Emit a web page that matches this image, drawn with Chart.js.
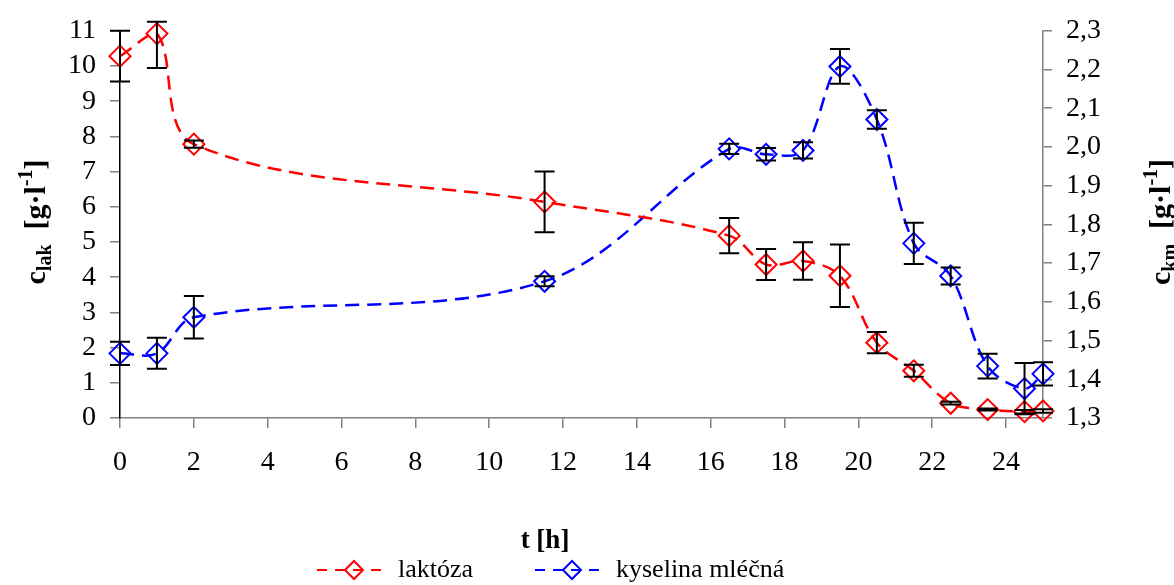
<!doctype html>
<html>
<head>
    <title>Laktóza a kyselina mléčná</title>
    <script src="https://cdn.jsdelivr.net/npm/chart.js"></script>
    <style>
        body { margin: 0; background: #fff; }
        .wrapper { width: 1174px; height: 585px; }
    </style>
</head>
<body>
    <div class="wrapper"><canvas id="chart"></canvas></div>

    <script>
        // Data
        var hours = [0, 1, 2, 11.5, 16.5, 17.5, 18.5, 19.5, 20.5, 21.5, 22.5, 23.5, 24.5, 25];
        var lactose = [10.28, 10.92, 7.78, 6.14, 5.18, 4.36, 4.46, 4.04, 2.14, 1.34, 0.42, 0.24, 0.18, 0.2];
        var lactoseErr = [0.72, 0.98, 0.1, 0.86, 0.5, 0.44, 0.53, 0.89, 0.3, 0.17, 0.04, 0.03, 0.05, 0.05];
        var acid = [1.467, 1.467, 1.56, 1.653, 1.995, 1.981, 1.991, 2.208, 2.071, 1.751, 1.667, 1.434, 1.376, 1.414];
        var acidErr = [0.03, 0.04, 0.055, 0.013, 0.013, 0.016, 0.021, 0.045, 0.024, 0.053, 0.022, 0.032, 0.066, 0.03];
        var seriesNames = ['laktóza', 'kyselina mléčná'];
        var serif = "'Liberation Serif', 'Times New Roman', serif";

        function points(ys) {
            return hours.map(function(h, i) { return { x: h, y: ys[i] }; });
        }

        // draw text made of pieces (sub/superscripts), centred at cx,cy
        function richText(ctx, parts, cx, cy, rot) {
            ctx.save();
            ctx.translate(cx, cy);
            ctx.rotate(rot);
            ctx.textBaseline = 'alphabetic';
            ctx.textAlign = 'left';
            var total = 0;
            parts.forEach(function(p) {
                ctx.font = 'bold ' + p.size + 'px ' + serif;
                p.w = ctx.measureText(p.t).width;
                total += p.w;
            });
            var x = -total / 2;
            parts.forEach(function(p) {
                ctx.font = 'bold ' + p.size + 'px ' + serif;
                ctx.fillStyle = '#000';
                ctx.fillText(p.t, x, 10 + p.dy);
                x += p.w;
            });
            ctx.restore();
        }

        var extras = {
            id: 'extras',
            afterDatasetsDraw: function(chart) {
                var ctx = chart.ctx, xs = chart.scales.x;
                ctx.save();
                ctx.strokeStyle = '#000';
                ctx.lineWidth = 2;
                function bars(vals, errs, scale) {
                    for (var i = 0; i < hours.length; i++) {
                        var px = xs.getPixelForValue(hours[i]);
                        var top = Math.max(scale.getPixelForValue(vals[i] + errs[i]), chart.chartArea.top - 9);
                        var bot = scale.getPixelForValue(vals[i] - errs[i]);
                        ctx.beginPath();
                        ctx.moveTo(px, top); ctx.lineTo(px, bot);
                        ctx.moveTo(px - 10, top); ctx.lineTo(px + 10, top);
                        ctx.moveTo(px - 10, bot); ctx.lineTo(px + 10, bot);
                        ctx.stroke();
                    }
                }
                bars(lactose, lactoseErr, chart.scales.y);
                bars(acid, acidErr, chart.scales.y1);
                ctx.restore();
            },
            afterDraw: function(chart) {
                var ctx = chart.ctx;
                var midY = 222;
                richText(ctx, [
                    { t: 'c', size: 30, dy: 0 }, { t: 'lak', size: 20, dy: 6 },
                    { t: '  [g·l', size: 30, dy: 0 }, { t: '-1', size: 20, dy: -13 }, { t: ']', size: 30, dy: 0 }
                ], 35, midY, -Math.PI / 2);
                richText(ctx, [
                    { t: 'c', size: 30, dy: 0 }, { t: 'km', size: 20, dy: 6 },
                    { t: '  [g·l', size: 30, dy: 0 }, { t: '-1', size: 20, dy: -13 }, { t: ']', size: 30, dy: 0 }
                ], 1160, midY, -Math.PI / 2);

                // x title
                ctx.save();
                ctx.fillStyle = '#000';
                ctx.font = 'bold 27px ' + serif;
                ctx.textAlign = 'center';
                ctx.textBaseline = 'middle';
                ctx.fillText('t [h]', 545, 541);

                // legend
                var items = [
                    { x: 317, color: '#ff0000', label: seriesNames[0] },
                    { x: 535, color: '#0000ff', label: seriesNames[1] }
                ];
                items.forEach(function(it) {
                    var y = 570;
                    ctx.strokeStyle = it.color;
                    ctx.lineWidth = 2;
                    ctx.setLineDash([10, 8]);
                    ctx.beginPath();
                    ctx.moveTo(it.x, y); ctx.lineTo(it.x + 70, y);
                    ctx.stroke();
                    ctx.setLineDash([]);
                    var cx = it.x + 37, r = 9;
                    ctx.beginPath();
                    ctx.moveTo(cx - r, y); ctx.lineTo(cx, y - r); ctx.lineTo(cx + r, y); ctx.lineTo(cx, y + r);
                    ctx.closePath();
                    ctx.stroke();
                    ctx.fillStyle = '#000';
                    ctx.font = '26px ' + serif;
                    ctx.textAlign = 'left';
                    ctx.fillText(it.label, it.x + 81, y);
                });
                ctx.restore();
            }
        };

        var tickFont = { family: serif, size: 28 };

        var chart = new Chart(document.getElementById('chart').getContext('2d'), {
            type: 'line',
            data: {
                datasets: [{
                    label: seriesNames[0],
                    data: points(lactose),
                    yAxisID: 'y',
                    borderColor: '#ff0000',
                    backgroundColor: 'rgba(0,0,0,0)',
                    borderWidth: 2.5,
                    borderDash: [14, 8],
                    tension: 0.35,
                    pointStyle: 'rectRot',
                    pointRadius: 10.5,
                    pointBorderWidth: 2,
                    pointBorderColor: '#ff0000',
                    pointBackgroundColor: 'rgba(0,0,0,0)',
                    clip: false
                }, {
                    label: seriesNames[1],
                    data: points(acid),
                    yAxisID: 'y1',
                    borderColor: '#0000ff',
                    backgroundColor: 'rgba(0,0,0,0)',
                    borderWidth: 2.5,
                    borderDash: [14, 8],
                    tension: 0.35,
                    pointStyle: 'rectRot',
                    pointRadius: 10.5,
                    pointBorderWidth: 2,
                    pointBorderColor: '#0000ff',
                    pointBackgroundColor: 'rgba(0,0,0,0)',
                    clip: false
                }]
            },
            options: {
                responsive: true,
                maintainAspectRatio: false,
                animation: false,
                layout: { autoPadding: false, padding: { top: 22, left: 0, right: 0, bottom: 0 } },
                plugins: { legend: { display: false }, tooltip: { enabled: false } },
                scales: {
                    x: {
                        type: 'linear',
                        min: 0,
                        max: 25,
                        ticks: { stepSize: 2, includeBounds: false, autoSkip: false, color: '#000', font: tickFont, padding: 18, maxRotation: 0 },
                        grid: { drawOnChartArea: false, tickLength: 10, color: '#808080', lineWidth: 1.5 },
                        border: { color: '#808080', width: 1.5 },
                        afterFit: function(s) { s.height = 167; }
                    },
                    y: {
                        position: 'left',
                        min: 0,
                        max: 11,
                        ticks: { stepSize: 1, autoSkip: false, color: '#000', font: tickFont, padding: 14 },
                        grid: { drawOnChartArea: false, tickLength: 10, color: '#808080', lineWidth: 1.5 },
                        border: { color: '#000', width: 1.5 },
                        afterFit: function(s) { s.width = 120; }
                    },
                    y1: {
                        position: 'right',
                        min: 1.3,
                        max: 2.3,
                        ticks: {
                            stepSize: 0.1, autoSkip: false, color: '#000', font: tickFont, padding: 14,
                            callback: function(v) { return v.toFixed(1).replace('.', ','); }
                        },
                        grid: { drawOnChartArea: false, tickLength: 9, color: '#808080', lineWidth: 1.5 },
                        border: { color: '#808080', width: 1.5 },
                        afterFit: function(s) { s.width = 131; }
                    }
                }
            },
            plugins: [extras]
        });
    </script>
</body>
</html>
